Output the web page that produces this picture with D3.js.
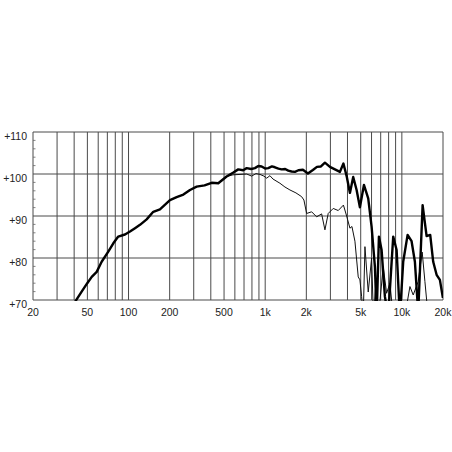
<!DOCTYPE html>
<html><head><meta charset="utf-8">
<script src="https://cdn.jsdelivr.net/npm/d3@7"></script>
<style>body{margin:0;background:#fff}svg{display:block}</style>
</head><body><svg id="c" width="452" height="452"></svg>
<script>
// Frequency ticks / labels
const xLabelValues = [20, 50, 100, 200, 500, 1000, 2000, 5000, 10000, 20000];
const xLabelTexts  = ["20", "50", "100", "200", "500", "1k", "2k", "5k", "10k", "20k"];
const yTickValues  = [70, 80, 90, 100, 110];
const yTickTexts   = ["+70", "+80", "+90", "+100", "+110"];

// On-axis response (thick)
const onAxisFreq = [40.5, 45.4, 49.9, 53.8, 58.5, 63.6, 71.1, 77.4, 84.1, 94.2, 102.5, 111.5, 121.3, 135.7, 151.7, 169.8, 201, 225, 252, 281.6, 315, 360, 405.7, 453.6, 522, 581, 635, 690, 732, 790, 841, 890, 942, 1000, 1053, 1120, 1179, 1250, 1319, 1400, 1475, 1560, 1651, 1750, 1888, 2054, 2234, 2391, 2558, 2736, 2976, 3238, 3522, 3736, 3944, 4169, 4406, 4666, 4932, 5278, 5674, 6008, 6352, 6538, 6795, 7108, 7516, 7944, 8646, 9154, 9677, 10230, 11016, 11780, 12456, 13172, 14187, 15172, 16124, 16958, 17956, 18980, 19960];
const onAxisDb   = [69.5, 72.0, 74.0, 75.5, 76.7, 79.1, 81.5, 83.5, 85.1, 85.6, 86.3, 87.1, 87.9, 89.2, 91.0, 91.6, 93.8, 94.5, 95.1, 96.2, 97.0, 97.3, 97.9, 97.8, 99.4, 100.3, 101.1, 100.9, 101.4, 101.2, 101.4, 101.9, 101.8, 101.3, 101.4, 101.8, 101.6, 101.3, 101.1, 101.2, 100.8, 100.6, 100.5, 100.9, 101.0, 100.1, 100.95, 101.7, 101.8, 102.7, 101.7, 101.1, 100.5, 102.5, 99.5, 95.5, 99.3, 96.2, 92.1, 97.4, 94.2, 87.4, 77.9, 66, 85.1, 81.9, 70.8, 66, 85.1, 81.9, 66, 79.1, 85.5, 84.0, 79.1, 67, 92.6, 85.2, 85.5, 79.1, 76.0, 74.8, 70.5];

// Off-axis response (thin)
const offAxisFreq = [40.5, 45.4, 49.9, 53.8, 58.5, 63.6, 71.1, 77.4, 84.1, 94.2, 102.5, 111.5, 121.3, 135.7, 151.7, 169.8, 201, 225, 252, 281.6, 315, 360, 405.7, 453.6, 522, 581, 654, 732, 796, 856, 916, 979, 1025, 1083, 1140, 1282, 1395, 1517, 1679, 1848, 1920, 2010, 2187, 2380, 2588, 2736, 2892, 3146, 3423, 3736, 3944, 4169, 4312, 4535, 4795, 4932, 5078, 5218, 5369, 5674, 6008, 6193, 6458, 6738, 7306, 7735, 8178, 8646, 9500, 10500, 11458, 12108, 13172, 14088, 14746, 15588];
const offAxisDb   = [69.5, 72.0, 74.0, 75.5, 76.7, 79.1, 81.5, 83.5, 85.1, 85.6, 86.3, 87.1, 87.9, 89.2, 91.0, 91.6, 93.8, 94.5, 95.1, 96.2, 97.0, 97.3, 97.9, 97.8, 99.4, 99.8, 99.9, 100.0, 99.5, 100.1, 99.9, 99.5, 99.0, 99.6, 98.8, 97.8, 96.9, 96.2, 95.5, 94.6, 93.8, 90.6, 91.0, 89.8, 90.5, 86.7, 90.6, 91.8, 91.3, 92.6, 90.0, 87.1, 87.5, 84.0, 75.5, 74.8, 70.8, 66, 82.7, 71.9, 80.0, 66, 74.0, 66, 77.9, 71.6, 74.0, 66, 66, 66, 73.2, 71.2, 74.4, 81.4, 74.4, 66];

const svg = d3.select("#c");
const x = d3.scaleLog().domain([20, 20000]).range([33, 443]);
const y = d3.scaleLinear().domain([70, 110]).range([300, 132]);

// vertical grid
const gridF = [];
[10, 100, 1000, 10000].forEach(d => { for (let k = 1; k <= 9; k++) { const f = k * d; if (f >= 20 && f <= 20000) gridF.push(f); } });
svg.append("g").selectAll("line").data(gridF).join("line")
  .attr("x1", d => x(d)).attr("x2", d => x(d)).attr("y1", y(110)).attr("y2", y(70))
  .attr("stroke", "#4a4a4a").attr("stroke-width", 1);

// horizontal grid
svg.append("g").selectAll("line").data(yTickValues).join("line")
  .attr("x1", x(20)).attr("x2", x(20000)).attr("y1", d => y(d)).attr("y2", d => y(d))
  .attr("stroke", "#4a4a4a").attr("stroke-width", 1);

// small minor ticks on left axis
const minor = d3.range(72, 110, 2).filter(v => v % 10 !== 0);
svg.append("g").selectAll("line").data(minor).join("line")
  .attr("x1", x(20)).attr("x2", x(20) + 2.5).attr("y1", d => y(d)).attr("y2", d => y(d))
  .attr("stroke", "#666").attr("stroke-width", 0.8);

// clip
svg.append("clipPath").attr("id", "clip").append("rect")
  .attr("x", x(20)).attr("y", y(110)).attr("width", x(20000) - x(20)).attr("height", y(70) - y(110) + 1);

const line = d3.line().x(d => x(d[0])).y(d => y(d[1]));
const gCurves = svg.append("g").attr("clip-path", "url(#clip)");
gCurves.append("path").datum(d3.zip(offAxisFreq, offAxisDb)).attr("d", line)
  .attr("fill", "none").attr("stroke", "#111").attr("stroke-width", 1).attr("stroke-linejoin", "round");
gCurves.append("path").datum(d3.zip(onAxisFreq, onAxisDb)).attr("d", line)
  .attr("fill", "none").attr("stroke", "#000").attr("stroke-width", 2.4).attr("stroke-linejoin", "round");

// labels
const font = "'Liberation Sans', Arial, sans-serif";
svg.append("g").selectAll("text").data(xLabelValues).join("text")
  .attr("x", d => x(d)).attr("y", 316).attr("text-anchor", "middle")
  .attr("font-family", font).attr("font-size", 10.5).attr("fill", "#222")
  .text((d, i) => xLabelTexts[i]);
svg.append("g").selectAll("text").data(yTickValues).join("text")
  .attr("x", 27).attr("y", d => y(d) + 8).attr("text-anchor", "end")
  .attr("font-family", font).attr("font-size", 10.5).attr("fill", "#222")
  .text((d, i) => yTickTexts[i]);
</script></body></html>
